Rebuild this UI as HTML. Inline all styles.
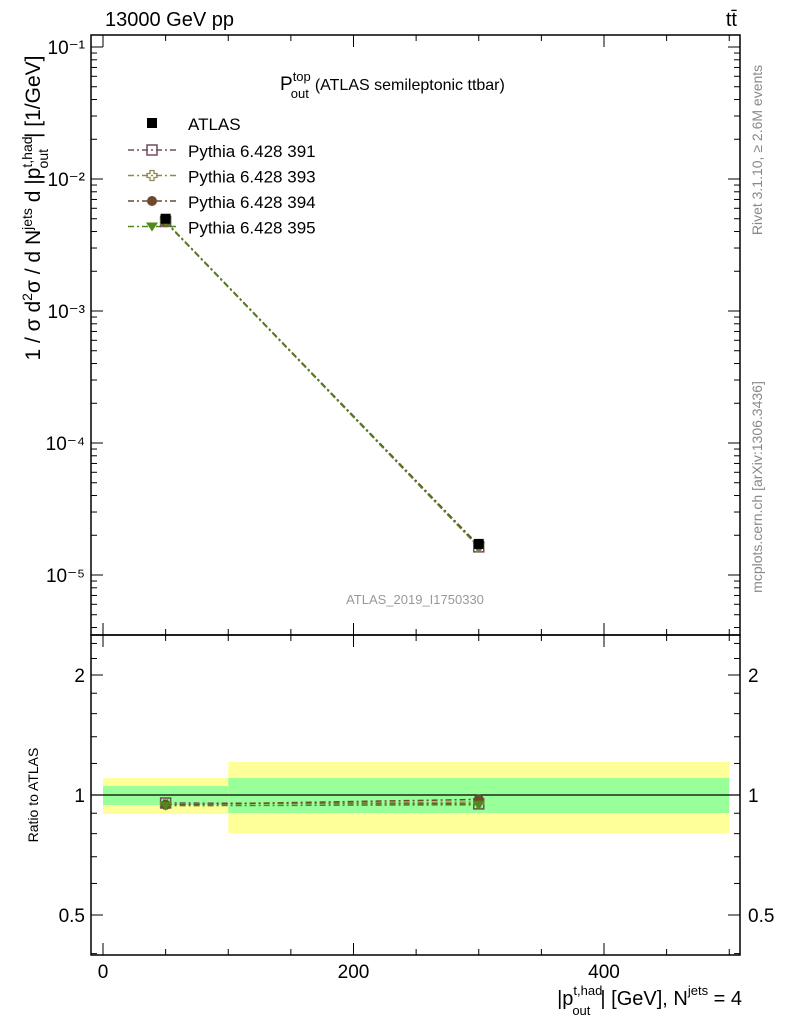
<!DOCTYPE html>
<html><head><meta charset="utf-8"><style>
body{margin:0;background:#fff}
text{font-family:"Liberation Sans",sans-serif}
</style></head><body>
<svg id="c" width="786" height="1024" viewBox="0 0 786 1024">
<text x="105" y="26" font-size="20">13000 GeV pp</text>
<text x="737" y="26" font-size="20" text-anchor="end">tt̄</text>
<text x="280" y="90" font-size="19">P<tspan font-size="13" dy="-9" dx="0">top</tspan><tspan font-size="13" dy="17" dx="-20">out</tspan><tspan font-size="16" dy="-8" dx="6">(ATLAS semileptonic ttbar)</tspan></text>
<text x="415" y="604" font-size="13" fill="#999" text-anchor="middle">ATLAS_2019_I1750330</text>
<text transform="translate(762,150) rotate(-90)" font-size="14" fill="#888" text-anchor="middle">Rivet 3.1.10, ≥ 2.6M events</text>
<text transform="translate(762,487) rotate(-90)" font-size="14" fill="#888" text-anchor="middle">mcplots.cern.ch [arXiv:1306.3436]</text>
<text transform="translate(40,208) rotate(-90)" font-size="21" text-anchor="middle">1 / σ d<tspan font-size="14" dy="-8">2</tspan><tspan dy="8">σ / d N</tspan><tspan font-size="14" dy="-8">jets</tspan><tspan dy="8"> d |p</tspan><tspan font-size="14" dy="-8">t,had</tspan><tspan font-size="14" dy="16" dx="-32">out</tspan><tspan dy="-8" dx="11">| [1/GeV]</tspan></text>
<text transform="translate(38,795) rotate(-90)" font-size="14" text-anchor="middle">Ratio to ATLAS</text>
<text x="742" y="1005" font-size="20" text-anchor="end">|p<tspan font-size="13" dy="-10">t,had</tspan><tspan font-size="13" dy="20" dx="-30">out</tspan><tspan dy="-10" dx="10">| [GeV], N</tspan><tspan font-size="13" dy="-10">jets</tspan><tspan dy="10"> = 4</tspan></text>
<g id="legend"></g>
<g id="g"></g>
</svg>
<script>
const categories=[50,300];
const binEdges=[0,100,500];
const atlas=[5.0e-3,1.72e-5];
const statLo=[0.944,0.901], statHi=[1.053,1.103];
const totLo=[0.896,0.803], totHi=[1.103,1.21];
const r391=[0.955,0.95];
const r393=[0.95,0.96];
const r394=[0.945,0.975];
const r395=[0.94,0.945];
const mainTicks=["10⁻¹","10⁻²","10⁻³","10⁻⁴","10⁻⁵"];
const xTicks=[0,200,400];
const ratioTicks=[0.5,1,2];
const ns="http://www.w3.org/2000/svg";
const svg=document.getElementById('g');
const L=91,R=740,T=35,B=635,RB=955;
const X=v=>103+(v-0)*1.2525;
const Y=v=>47+(-1-Math.log10(v))*132;
const RY=v=>795-Math.log2(v)*120;
function el(t,a,p){const e=document.createElementNS(ns,t);for(const k in a)e.setAttribute(k,a[k]);(p||svg).appendChild(e);return e;}
for(let i=0;i<2;i++){
 const x0=X(binEdges[i]),x1=X(binEdges[i+1]);
 let e=el('rect',{x:x0,y:RY(totHi[i]),width:x1-x0,height:RY(totLo[i])-RY(totHi[i]),fill:'#ffff99'});
 
 e=el('rect',{x:x0,y:RY(statHi[i]),width:x1-x0,height:RY(statLo[i])-RY(statHi[i]),fill:'#99ff99'});
 
}
let ln=el('line',{x1:L,x2:R,y1:RY(1),y2:RY(1),stroke:'#000','stroke-width':1.2});

let f=el('rect',{x:L,y:T,width:R-L,height:B-T,fill:'none',stroke:'#000','stroke-width':1.5});

f=el('rect',{x:L,y:B,width:R-L,height:RB-B,fill:'none',stroke:'#000','stroke-width':1.5});

for(let d=-1;d>=-6;d--){
 for(let m=1;m<10;m++){const v=m*Math.pow(10,d);const y=Y(v);if(y<T||y>B)continue;const len=m==1?12:6;
  el('line',{x1:L,x2:L+len,y1:y,y2:y,stroke:'#000'});el('line',{x1:R,x2:R-len,y1:y,y2:y,stroke:'#000'});}
}
mainTicks.forEach((t,i)=>{const e=el('text',{x:L-6,y:Y(Math.pow(10,-1-i))+7,'font-size':19,'text-anchor':'end'});e.textContent=t;
 });
for(let v=0;v<=500;v+=50){const x=X(v);const len=v%200==0?12:6;
 el('line',{x1:x,x2:x,y1:B,y2:B-len,stroke:'#000'});el('line',{x1:x,x2:x,y1:T,y2:T+len,stroke:'#000'});
 el('line',{x1:x,x2:x,y1:RB,y2:RB-len,stroke:'#000'});el('line',{x1:x,x2:x,y1:B,y2:B+len,stroke:'#000'});}
xTicks.forEach(v=>{const e=el('text',{x:X(v),y:978,'font-size':19,'text-anchor':'middle'});e.textContent=v;
 });
[0.4,0.5,0.6,0.7,0.8,0.9,1,1.2,1.4,1.6,1.8,2,2.2,2.4].forEach(v=>{const y=RY(v);const len=ratioTicks.includes(v)?12:6;
 el('line',{x1:L,x2:L+len,y1:y,y2:y,stroke:'#000'});el('line',{x1:R,x2:R-len,y1:y,y2:y,stroke:'#000'});});
ratioTicks.forEach(v=>{let e=el('text',{x:L-6,y:RY(v)+7,'font-size':19,'text-anchor':'end'});e.textContent=v;
 
 e=el('text',{x:R+8,y:RY(v)+7,'font-size':19});e.textContent=v;
 });
const series=[[r391,'#714b61','sq','391'],[r393,'#8e8a4e','cross','393'],[r394,'#6b4a2d','circ','394'],[r395,'#4d8a1a','tri','395']];
function marker(kind,x,y,c,p){
 if(kind=='sq')return el('rect',{x:x-5,y:y-5,width:10,height:10,fill:'none',stroke:c,'stroke-width':1.5},p);
 if(kind=='cross')return el('path',{d:`M${x-2},${y-5}h4v3h3v4h-3v3h-4v-3h-3v-4h3z`,fill:'none',stroke:c,'stroke-width':1.3},p);
 if(kind=='circ')return el('circle',{cx:x,cy:y,r:5,fill:c},p);
 return el('path',{d:`M${x-6},${y-4}h12l-6,9z`,fill:c},p);
}
const ag=document.getElementById('legend');
series.forEach((s,k)=>{
 const [r,c,kind,name]=s;
 const pts=categories.map((v,i)=>[X(v),Y(atlas[i]*r[i])]);
 let p=el('polyline',{points:pts.map(q=>q.join(',')).join(' '),fill:'none',stroke:c,'stroke-width':1.5,'stroke-dasharray':'6,3,2,3'});
 
 pts.forEach(q=>{const m=marker(kind,q[0],q[1],c);});
 const rp=categories.map((v,i)=>[X(v),RY(r[i])]);
 p=el('polyline',{points:rp.map(q=>q.join(',')).join(' '),fill:'none',stroke:c,'stroke-width':1.5,'stroke-dasharray':'6,3,2,3'});
 
 rp.forEach(q=>{const m=marker(kind,q[0],q[1],c);});
 const ly=150+k*25.5;
 el('line',{x1:128,x2:177,y1:ly,y2:ly,stroke:c,'stroke-width':1.5,'stroke-dasharray':'6,3,2,3'},ag);
 marker(kind,152,ly,c,ag);
 const t=el('text',{x:188,y:ly+7,'font-size':17},ag);t.textContent='Pythia 6.428 '+name;
 
});
categories.forEach((v,i)=>{const m=el('rect',{x:X(v)-5,y:Y(atlas[i])-5,width:10,height:10,fill:'#000'});
 });
el('rect',{x:147,y:118,width:10,height:10,fill:'#000'},ag);
const at=el('text',{x:188,y:130,'font-size':17},ag);at.textContent='ATLAS';

</script>
</body></html>
